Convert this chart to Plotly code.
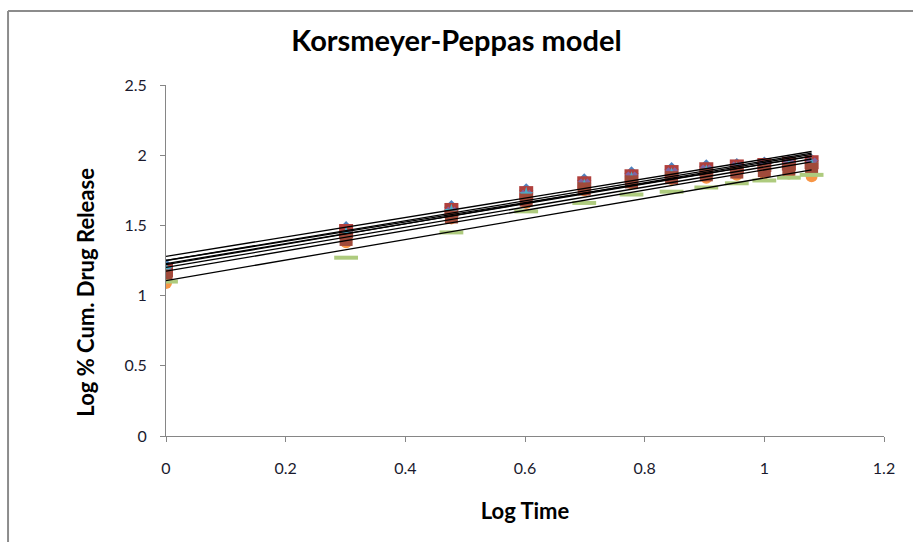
import numpy as np
import plotly.graph_objects as go

# Log time (log10 of 1..12 h)
log_time = [0.0, 0.301, 0.477, 0.602, 0.699, 0.778, 0.845, 0.903, 0.954, 1.0, 1.041, 1.079]

# Log % cumulative drug release for each formulation
f1 = [1.21, 1.48, 1.63, 1.75, 1.82, 1.87, 1.90, 1.92, 1.93, 1.94, 1.95, 1.96]
f2 = [1.18, 1.46, 1.61, 1.73, 1.80, 1.85, 1.88, 1.90, 1.92, 1.93, 1.94, 1.95]
f3 = [1.17, 1.43, 1.58, 1.70, 1.78, 1.83, 1.86, 1.88, 1.90, 1.91, 1.92, 1.93]
f4 = [1.16, 1.42, 1.59, 1.71, 1.79, 1.84, 1.87, 1.89, 1.91, 1.92, 1.93, 1.94]
f5 = [1.19, 1.44, 1.60, 1.72, 1.78, 1.83, 1.86, 1.88, 1.90, 1.91, 1.92, 1.93]
f6 = [1.09, 1.38, 1.55, 1.66, 1.75, 1.80, 1.83, 1.84, 1.86, 1.87, 1.87, 1.85]
f7 = [1.14, 1.40, 1.56, 1.68, 1.76, 1.81, 1.84, 1.86, 1.88, 1.89, 1.90, 1.90]
f8 = [1.10, 1.27, 1.45, 1.60, 1.66, 1.72, 1.74, 1.77, 1.80, 1.82, 1.84, 1.86]

series = [f1, f2, f3, f4, f5, f6, f7, f8]
names = ["F1", "F2", "F3", "F4", "F5", "F6", "F7", "F8"]
colors = ["#4F81BD", "#B0403D", "#9BBB59", "#8064A2", "#4BACC6", "#F79646", "#A04A3A", "#AECB7E"]
symbols = ["diamond", "square", "triangle-up", "x", "star", "circle", "square", "line-ew"]
sizes = [11, 14, 11, 11, 11, 12, 13, 17]

fig = go.Figure()

for ys, name, col, sym, sz in zip(series, names, colors, symbols, sizes):
    if sym == "line-ew":
        marker = dict(symbol=sym, size=sz, color=col, line=dict(color=col, width=4))
    else:
        marker = dict(symbol=sym, size=sz, color=col, line=dict(width=0))
    fig.add_trace(go.Scatter(x=log_time, y=ys, mode="markers", name=name,
                             marker=marker, showlegend=False))

# Linear trend line for each formulation
xs = np.array(log_time)
for ys in series:
    slope, intercept = np.polyfit(xs, np.array(ys), 1)
    xl = np.array([xs.min(), xs.max()])
    fig.add_trace(go.Scatter(x=xl, y=slope * xl + intercept, mode="lines",
                             line=dict(color="black", width=1.3),
                             showlegend=False, hoverinfo="skip"))

font_family = "Lato, Open Sans, sans-serif"
axis_font = dict(family=font_family, size=16, color="#1a1a2e")
label_font = dict(family=font_family, size=22, color="black")

fig.update_layout(
    width=913, height=542,
    margin=dict(l=166, r=29, t=85, b=106),
    paper_bgcolor="white", plot_bgcolor="white",
    title=dict(text="<b>Korsmeyer-Peppas model</b>", x=0.5, xanchor="center",
               xref="container", y=0.924, yanchor="middle",
               font=dict(family=font_family, size=29, color="black")),
    xaxis=dict(range=[0, 1.2], dtick=0.2, tick0=0, showgrid=False, zeroline=False,
               showline=True, linecolor="#868686", linewidth=1,
               ticks="outside", ticklen=5, tickcolor="#868686",
               tickfont=axis_font, ticklabelstandoff=13,
               title=dict(text="<b>Log Time</b>", standoff=27, font=label_font)),
    yaxis=dict(range=[0, 2.5], dtick=0.5, tick0=0, showgrid=False, zeroline=False,
               showline=True, linecolor="#868686", linewidth=1,
               ticks="outside", ticklen=5, tickcolor="#868686",
               tickfont=axis_font, ticklabelstandoff=10),
    annotations=[
        dict(text="<b>Log % Cum. Drug Release</b>", textangle=-90,
             xref="paper", yref="paper", x=-0.112, y=0.41,
             xanchor="center", yanchor="middle", showarrow=False, font=label_font),
    ],
    shapes=[
        dict(type="line", xref="paper", yref="paper", x0=-0.22, x1=-0.22, y0=1.211, y1=-0.31,
             line=dict(color="#8c8c8c", width=2)),
        dict(type="line", xref="paper", yref="paper", x0=-0.22, x1=1.05, y0=1.211, y1=1.211,
             line=dict(color="#8c8c8c", width=2)),
    ],
)

fig.write_html("out.html")
